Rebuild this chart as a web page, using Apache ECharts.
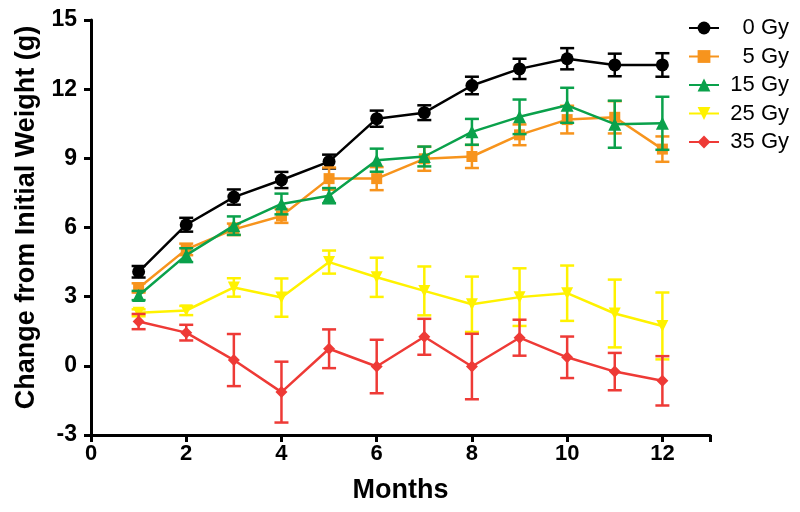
<!DOCTYPE html>
<html>
<head>
    <meta charset="utf-8">
    <title>Weight change</title>
    <script src="https://cdn.jsdelivr.net/npm/echarts@6/dist/echarts.min.js"></script>
    <style>
        html, body { margin: 0; padding: 0; background: #fff; }
        #main { width: 800px; height: 512px; }
    </style>
</head>
<body>
    <div id="main"></div>
<script>
    // months on the x axis
    var months = [1, 2, 3, 4, 5, 6, 7, 8, 9, 10, 11, 12];
    var groupNames = ['0 Gy', '5 Gy', '15 Gy', '25 Gy', '35 Gy'];
    var xTicks = [0, 2, 4, 6, 8, 10, 12];
    var yTicks = [-3, 0, 3, 6, 9, 12, 15];

    // mean change (g)
    var mean0 = [4.08, 6.12, 7.32, 8.06, 8.86, 10.72, 10.98, 12.16, 12.88, 13.32, 13.05, 13.05];
    var mean5 = [3.38, 5.05, 5.92, 6.5, 8.12, 8.12, 8.98, 9.08, 10.02, 10.68, 10.78, 9.4];
    var mean15 = [3.05, 4.8, 6.08, 7.02, 7.38, 8.92, 9.08, 10.15, 10.8, 11.3, 10.48, 10.52];
    var mean25 = [2.3, 2.4, 3.4, 2.96, 4.5, 3.84, 3.25, 2.67, 2.98, 3.15, 2.27, 1.73];
    var mean35 = [1.92, 1.44, 0.25, -1.14, 0.74, -0.03, 1.26, -0.03, 1.22, 0.37, -0.25, -0.65];

    // error (+/-)
    var err0 = [0.25, 0.3, 0.33, 0.35, 0.3, 0.35, 0.32, 0.38, 0.44, 0.46, 0.49, 0.51];
    var err5 = [0.2, 0.25, 0.25, 0.3, 0.48, 0.5, 0.52, 0.5, 0.45, 0.6, 0.7, 0.55];
    var err15 = [0.2, 0.3, 0.4, 0.45, 0.33, 0.5, 0.43, 0.56, 0.75, 0.76, 1.02, 1.15];
    var err25 = [0.15, 0.2, 0.4, 0.83, 0.5, 0.85, 1.06, 1.2, 1.25, 1.2, 1.47, 1.45];
    var err35 = [0.33, 0.34, 1.13, 1.32, 0.84, 1.16, 0.78, 1.42, 0.78, 0.9, 0.81, 1.07];

    var colors = ['#000000', '#f7941d', '#0aa14b', '#fff200', '#ee3a36'];
    var symbols = ['circle', 'rect', 'triangle', 'path://M0,0 L10,0 L5,9 Z', 'diamond'];
    var symbolSizes = [13, 11, 13, 12, 12];

    var means = [mean0, mean5, mean15, mean25, mean35];
    var errs = [err0, err5, err15, err25, err35];

    var fontFam = '"Liberation Sans", Arial, sans-serif';

    function pairs(ys) {
        var out = [];
        for (var i = 0; i < months.length; i++) {
            out.push([months[i], ys[i]]);
        }
        return out;
    }

    function errData(ys, es) {
        var out = [];
        for (var i = 0; i < months.length; i++) {
            out.push([months[i], ys[i] - es[i], ys[i] + es[i]]);
        }
        return out;
    }

    // draws the whisker with caps
    function errRender(color) {
        return function (params, api) {
            var x = api.value(0);
            var lo = api.coord([x, api.value(1)]);
            var hi = api.coord([x, api.value(2)]);
            var w = 7;
            var st = { stroke: color, lineWidth: 2.5 };
            return {
                type: 'group',
                children: [
                    { type: 'line', shape: { x1: lo[0], y1: lo[1], x2: hi[0], y2: hi[1] }, style: st },
                    { type: 'line', shape: { x1: lo[0] - w, y1: lo[1], x2: lo[0] + w, y2: lo[1] }, style: st },
                    { type: 'line', shape: { x1: hi[0] - w, y1: hi[1], x2: hi[0] + w, y2: hi[1] }, style: st }
                ]
            };
        };
    }

    var series = [];
    for (var k = 0; k < groupNames.length; k++) {
        series.push({
            type: 'custom',
            name: groupNames[k] + ' err',
            renderItem: errRender(colors[k]),
            encode: { x: 0, y: [1, 2] },
            data: errData(means[k], errs[k]),
            z: 2 + k * 2,
            silent: true
        });
        series.push({
            type: 'line',
            name: groupNames[k],
            data: pairs(means[k]),
            symbol: symbols[k],
            symbolSize: symbolSizes[k],
            showAllSymbol: true,
            lineStyle: { color: colors[k], width: 2.5 },
            itemStyle: { color: colors[k] },
            z: 3 + k * 2,
            animation: false
        });
    }

    var myChart = echarts.init(document.getElementById('main'));
    myChart.setOption({
        animation: false,
        grid: { left: 91, right: 90, top: 20, bottom: 77 },
        legend: {
            data: groupNames,
            orient: 'vertical',
            left: 683,
            top: 12,
            itemGap: 6.5,
            itemWidth: 30,
            itemHeight: 16,
            formatter: function (name) {
                return '{t|' + name + '}';
            },
            textStyle: {
                rich: {
                    t: { width: 65, align: 'right', fontSize: 22, lineHeight: 22, color: '#000', fontFamily: fontFam }
                }
            }
        },
        xAxis: {
            type: 'value',
            min: 0,
            max: 13,
            interval: 2,
            name: 'Months',
            nameLocation: 'middle',
            nameGap: 42,
            nameTextStyle: { fontSize: 27, fontWeight: 'bold', color: '#000', fontFamily: fontFam },
            axisLine: { onZero: false, lineStyle: { color: '#000', width: 3 } },
            axisTick: { length: 7, lineStyle: { color: '#000', width: 3 } },
            axisLabel: {
                fontSize: 22, fontWeight: 'bold', color: '#000', fontFamily: fontFam, margin: 8,
                formatter: function (v) {
                    return xTicks.indexOf(v) >= 0 ? String(v) : '';
                }
            },
            splitLine: { show: false }
        },
        yAxis: {
            type: 'value',
            min: -3,
            max: 15,
            interval: 3,
            name: 'Change from Initial Weight (g)',
            nameLocation: 'middle',
            nameGap: 50,
            nameTextStyle: { fontSize: 27, fontWeight: 'bold', color: '#000', fontFamily: fontFam, padding: [0, 0, 0, 20] },
            axisLine: { show: true, onZero: false, lineStyle: { color: '#000', width: 3 } },
            axisTick: { show: true, length: 7, lineStyle: { color: '#000', width: 3 } },
            axisLabel: {
                fontSize: 23, fontWeight: 'bold', color: '#000', fontFamily: fontFam, margin: 14,
                formatter: function (v) {
                    return yTicks.indexOf(v) >= 0 ? String(v) : '';
                }
            },
            splitLine: { show: false }
        },
        series: series
    });
</script>
</body>
</html>
